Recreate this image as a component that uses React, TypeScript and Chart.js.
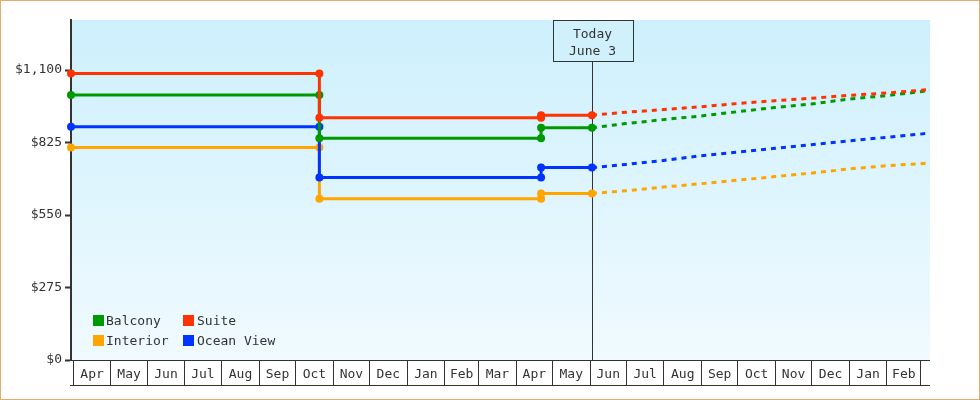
import React, { useEffect, useRef } from 'react';
import { Chart, registerables } from 'chart.js';

Chart.register(...registerables);

// ---- data ----
const seriesNames = ['Balcony', 'Suite', 'Interior', 'Ocean View'];
const seriesColors = ['#009900', '#ff3300', '#ffa500', '#0033ff'];

const stepDates = ['2021-03-30', '2021-10-21', '2021-10-21', '2022-04-22', '2022-04-22', '2022-06-03'];
const balconyPrices = [1005, 1005, 841, 841, 881, 881];
const suitePrices = [1087, 1087, 919, 919, 929, 929];
const interiorPrices = [806, 806, 612, 612, 632, 632];
const oceanViewPrices = [885, 885, 692, 692, 730, 730];

const forecastDates = ['2022-06-03', '2022-07-01', '2022-08-01', '2022-09-01', '2022-10-01', '2022-11-01', '2022-12-01', '2023-01-01', '2023-02-01', '2023-03-01', '2023-03-09'];
const balconyForecast = [881, 897, 912, 926, 942, 958, 971, 990, 1003, 1018, 1023];
const suiteForecast = [929, 940, 950, 961, 973, 984, 993, 1004, 1013, 1023, 1027];
const interiorForecast = [632, 642, 656, 669, 682, 696, 709, 725, 737, 745, 747];
const oceanViewForecast = [730, 742, 757, 775, 789, 803, 817, 831, 845, 857, 861];

const monthLabels = ['Apr', 'May', 'Jun', 'Jul', 'Aug', 'Sep', 'Oct', 'Nov', 'Dec', 'Jan', 'Feb', 'Mar', 'Apr', 'May', 'Jun', 'Jul', 'Aug', 'Sep', 'Oct', 'Nov', 'Dec', 'Jan', 'Feb'];
const firstMonthYear = 2021;
const firstMonthIndex = 3; // April
const axisStart = '2021-03-30';
const axisEnd = '2023-03-09';
const yTicks = [0, 275, 550, 825, 1100];
const yMax = 1290;
const todayDate = '2022-06-03';
const todayLabels = ['Today', 'June 3'];

const FONT = 'DejaVu Sans Mono';
const TEXT = '#333333';
const DAY = 86400000;
const BASE = Date.UTC(firstMonthYear, firstMonthIndex, 1);
const day = (s: string) => (Date.parse(s + 'T00:00:00Z') - BASE) / DAY;

const decor = {
  id: 'decor',
  beforeDraw(chart: any) {
    const { ctx, chartArea: a, width, height } = chart;
    ctx.save();
    ctx.fillStyle = '#ffffff';
    ctx.fillRect(0, 0, width, height);
    ctx.strokeStyle = '#e8aa66';
    ctx.lineWidth = 1;
    ctx.strokeRect(0.5, 0.5, width - 1, height - 1);
    const g = ctx.createLinearGradient(0, a.top, 0, a.bottom);
    g.addColorStop(0, '#cdf0fc');
    g.addColorStop(1, '#f0faff');
    ctx.fillStyle = g;
    ctx.fillRect(a.left, a.top, a.right - a.left, a.bottom - a.top);
    ctx.restore();
  },
  beforeDatasetsDraw(chart: any) {
    const { ctx, chartArea: a } = chart;
    const x = Math.round(chart.scales.x.getPixelForValue(day(todayDate))) + 0.5;
    const bw = 80;
    const bh = 41;
    ctx.save();
    ctx.strokeStyle = TEXT;
    ctx.lineWidth = 1;
    ctx.beginPath();
    ctx.moveTo(x, a.top + bh);
    ctx.lineTo(x, a.bottom);
    ctx.stroke();
    const bx = Math.round(x - bw / 2) + 0.5;
    const by = a.top + 0.5;
    ctx.fillStyle = '#d0f0fc';
    ctx.fillRect(bx, by, bw, bh);
    ctx.strokeRect(bx, by, bw, bh);
    ctx.fillStyle = TEXT;
    ctx.font = `13px "${FONT}"`;
    ctx.textAlign = 'center';
    ctx.textBaseline = 'alphabetic';
    ctx.fillText(todayLabels[0], x, a.top + 17.5);
    ctx.fillText(todayLabels[1], x, a.top + 35);
    ctx.restore();
  },
  afterDraw(chart: any) {
    const { ctx, chartArea: a } = chart;
    const xs = chart.scales.x;
    ctx.save();
    // month boxes
    ctx.strokeStyle = TEXT;
    ctx.lineWidth = 1;
    const top = a.bottom + 0.5;
    const bot = a.bottom + 25.5;
    ctx.beginPath();
    ctx.moveTo(a.left - 1, top);
    ctx.lineTo(a.right, top);
    ctx.moveTo(a.left - 1, bot);
    ctx.lineTo(a.right, bot);
    const bounds: number[] = [];
    for (let i = 0; i <= monthLabels.length; i++) {
      const d = (Date.UTC(firstMonthYear, firstMonthIndex + i, 1) - BASE) / DAY;
      const px = xs.getPixelForValue(d);
      bounds.push(px);
      if (px >= a.left && px <= a.right) {
        const lx = Math.round(px) + 0.5;
        ctx.moveTo(lx, top);
        ctx.lineTo(lx, bot);
      }
    }
    ctx.stroke();
    ctx.fillStyle = TEXT;
    ctx.font = `13px "${FONT}"`;
    ctx.textAlign = 'center';
    ctx.textBaseline = 'alphabetic';
    monthLabels.forEach((m, i) => {
      ctx.fillText(m, (bounds[i] + bounds[i + 1]) / 2 + 0.5, a.bottom + 18);
    });
    // legend
    const order = [0, 1, 2, 3];
    const colX = [a.left + 22, a.left + 112];
    const textX = [a.left + 35, a.left + 126];
    const rowY = [a.bottom - 40, a.bottom - 20];
    ctx.textAlign = 'left';
    order.forEach((s, k) => {
      const c = k % 2;
      const r = Math.floor(k / 2);
      ctx.fillStyle = seriesColors[s];
      ctx.fillRect(colX[c], rowY[r] - 5, 11, 11);
      ctx.fillStyle = TEXT;
      ctx.fillText(seriesNames[s], textX[c], rowY[r] + 5);
    });
    ctx.restore();
  },
};

const stepSeries = [balconyPrices, suitePrices, interiorPrices, oceanViewPrices];
const forecastSeries = [balconyForecast, suiteForecast, interiorForecast, oceanViewForecast];
const drawOrder = [2, 1, 4, 3];

export default function App() {
  const ref = useRef<HTMLCanvasElement>(null);
  useEffect(() => {
    document.body.style.margin = '0';
    if (!ref.current) return;
    const datasets: any[] = [];
    stepSeries.forEach((vals, s) => {
      datasets.push({
        label: seriesNames[s],
        data: stepDates.map((d, i) => ({ x: day(d), y: vals[i] })),
        borderColor: seriesColors[s],
        backgroundColor: seriesColors[s],
        pointBackgroundColor: seriesColors[s],
        borderWidth: 3,
        pointRadius: 4,
        pointHoverRadius: 4,
        pointBorderWidth: 0,
        tension: 0,
        clip: false,
        order: drawOrder[s],
      });
    });
    forecastSeries.forEach((vals, s) => {
      datasets.push({
        label: seriesNames[s] + ' forecast',
        data: forecastDates.map((d, i) => ({ x: day(d), y: vals[i] })),
        borderColor: seriesColors[s],
        backgroundColor: seriesColors[s],
        borderWidth: 3,
        borderDash: [5, 5],
        pointRadius: 0,
        pointHoverRadius: 0,
        tension: 0,
        order: drawOrder[s] + 10,
      });
    });
    const chart = new Chart(ref.current, {
      type: 'line',
      data: { datasets },
      options: {
        animation: false,
        responsive: false,
        layout: { padding: { top: 20, right: 50, bottom: 40, left: 0 } },
        plugins: { legend: { display: false }, tooltip: { enabled: false } },
        scales: {
          x: { type: 'linear', min: day(axisStart), max: day(axisEnd), display: false },
          y: {
            type: 'linear',
            min: 0,
            max: yMax,
            afterFit: (s: any) => { s.width = 71; },
            afterBuildTicks: (s: any) => { s.ticks = yTicks.map((v) => ({ value: v })); },
            ticks: {
              callback: (v: any) => '$' + Number(v).toLocaleString('en-US'),
              color: TEXT,
              padding: 3,
              font: { family: FONT, size: 13 },
            },
            grid: { drawOnChartArea: false, tickLength: 6, tickWidth: 2, tickColor: TEXT },
            border: { color: TEXT, width: 2 },
          },
        },
      },
      plugins: [decor],
    });
    return () => chart.destroy();
  }, []);
  return <canvas ref={ref} width={980} height={400} style={{ display: 'block' }} />;
}
